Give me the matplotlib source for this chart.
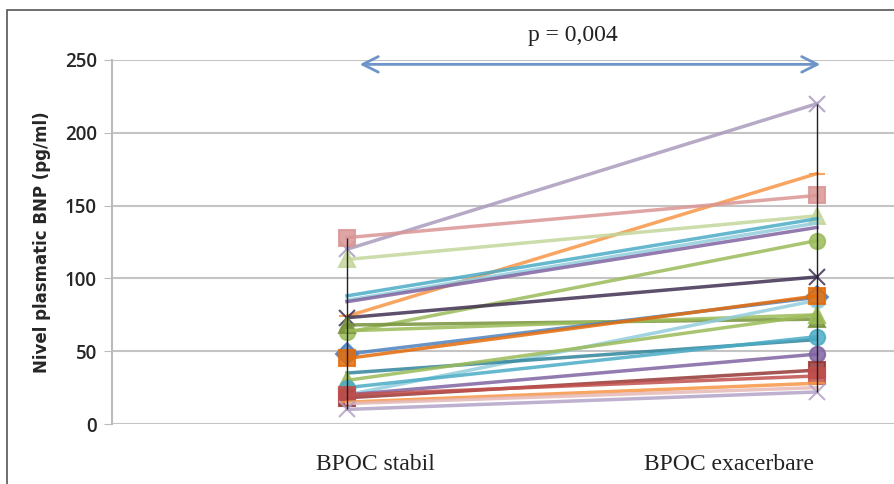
import matplotlib.pyplot as plt
from matplotlib.patches import Rectangle

categories = ["BPOC stabil", "BPOC exacerbare"]

# BNP values per patient: (stabil, exacerbare)
stabil = [120, 74, 128, 113, 88, 85, 84, 63, 73, 68, 64, 48, 20, 45,
          35, 30, 25, 20, 18, 20, 15, 14, 10]
exacerbare = [220, 172, 157, 143, 141, 138, 135, 126, 101, 72, 75, 87, 85, 88,
              58, 75, 60, 48, 37, 33, 28, 25, 22]
colors = ["#A99BBD", "#F79646", "#D99694", "#C3D69B", "#4BACC6", "#93CDDD",
          "#8064A2", "#9BBB59", "#403152", "#77933C", "#9BBB59", "#4F81BD",
          "#93CDDD", "#E46C0A", "#31859C", "#9BBB59", "#4BACC6", "#8064A2",
          "#953735", "#C0504D", "#F79646", "#E6B9B8", "#B3A2C7"]
markers = ["x", "_", "s", "^", "", "", "", "o", "x", "^", "", "D",
           "o", "s", "", "^", "o", "o", "s", "s", "_", "", "x"]

p_text = "p = 0,004"
y_label = "Nivel plasmatic BNP (pg/ml)"

fig = plt.figure(figsize=(8.95, 4.84), dpi=100)
fig.patch.set_facecolor("white")
fig.patches.append(Rectangle((7 / 895, -0.1), 1.2, 0.1 + (484 - 10) / 484,
                             transform=fig.transFigure, fill=False,
                             edgecolor="#555555", linewidth=1.2))

ax = fig.add_axes([112 / 895, 60 / 484, 940 / 895, 364 / 484])
ax.set_xlim(0.5, 2.5)
ax.set_ylim(0, 250)

xs = [1, 2]
for s, e, c, m in zip(stabil, exacerbare, colors, markers):
    ax.plot(xs, [s, e], color=c, linewidth=2.5, marker=m if m else None,
            markersize=11, markeredgewidth=1.5, alpha=0.85,
            clip_on=False, zorder=3)

# high-low lines
ax.vlines(1, min(stabil), max(stabil), color="#222222", linewidth=1, zorder=4)
ax.vlines(2, min(exacerbare), max(exacerbare), color="#222222", linewidth=1, zorder=4)

ax.set_yticks([0, 50, 100, 150, 200, 250])
ax.yaxis.grid(True, color="#C4C4C4", linewidth=1.5)
ax.set_axisbelow(True)
ax.set_xticks([])
for side in ["top", "right", "bottom"]:
    ax.spines[side].set_visible(False)
ax.spines["left"].set_color("#BBBBBB")
ax.spines["left"].set_linewidth(1.5)
ax.tick_params(axis="y", length=6, color="#BBBBBB", labelsize=13.5,
               labelcolor="#262626", pad=5)
for lbl in ax.get_yticklabels():
    lbl.set_fontfamily("Open Sans")
    lbl.set_fontweight("semibold")
ax.set_ylabel(y_label, fontsize=12, fontweight="bold", color="#262626",
              labelpad=10)

ax.annotate("", xy=(2.013, 247), xytext=(1.021, 247),
            arrowprops=dict(arrowstyle="<->", color="#6F95C8", linewidth=2,
                            mutation_scale=28),
            annotation_clip=False)
ax.text(1.48, 267, p_text, ha="center", va="center", fontsize=17,
        family="Liberation Serif", color="#222222", clip_on=False)

fig.text(375 / 895, 1 - 465 / 484, categories[0], ha="center", va="center",
         fontsize=17, family="Liberation Serif", color="#222222")
fig.text(729 / 895, 1 - 465 / 484, categories[1], ha="center", va="center",
         fontsize=17, family="Liberation Serif", color="#222222")

fig.savefig("out.png", dpi=100)
